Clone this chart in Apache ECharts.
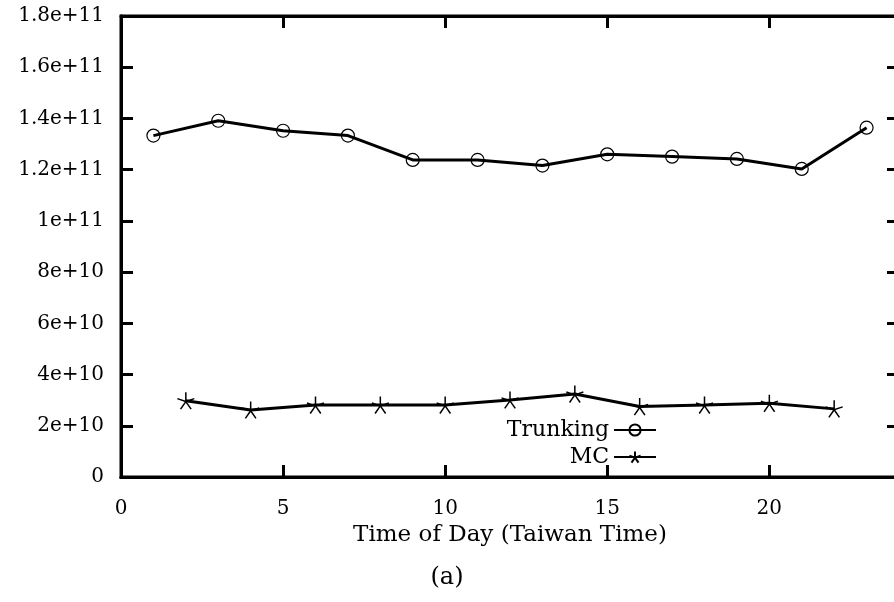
<!DOCTYPE html>
<html><head><meta charset="utf-8">
<script src="https://cdn.jsdelivr.net/npm/echarts@6/dist/echarts.min.js"></script>
<style>html,body{margin:0;padding:0;background:#fff}#c{width:894px;height:602px}</style>
</head><body><div id="c"></div>
<script>
const trunkingHours = [1,3,5,7,9,11,13,15,17,19,21,23];
const trunkingValues = [1.333e11,1.391e11,1.352e11,1.333e11,1.238e11,1.238e11,1.216e11,1.260e11,1.251e11,1.242e11,1.203e11,1.364e11];
const mcHours = [2,4,6,8,10,12,14,16,18,20,22];
const mcValues = [2.98e10,2.62e10,2.81e10,2.81e10,2.81e10,3.01e10,3.24e10,2.75e10,2.81e10,2.88e10,2.66e10];
const xTitle = 'Time of Day (Taiwan Time)';
const caption = '(a)';

const FONT = 'DejaVu Serif';
const TICK = '#000';
const starPath = 'path://M0,-10L0,0L9.5,-3.1M0,0L5.9,8.1M0,0L-5.9,8.1M0,0L-9.5,-3.1';
const fmtY = v => v === 0 ? '0' : v.toExponential().replace(/\.?0+e/, 'e');

const tickX = pos => ({type: 'value', min: 0, max: 24, interval: 5, position: pos,
  axisLine: {show: true, onZero: false, lineStyle: {color: '#000', width: 3}},
  axisTick: {show: true, inside: true, length: 12, lineStyle: {color: TICK, width: 3}},
  axisLabel: {show: false}, splitLine: {show: false}});
const tickY = pos => ({type: 'value', min: 0, max: 1.8e11, interval: 2e10, position: pos,
  axisLine: {show: true, onZero: false, lineStyle: {color: '#000', width: 3}},
  axisTick: {show: true, inside: true, length: 12, lineStyle: {color: TICK, width: 3}},
  axisLabel: {show: false}, splitLine: {show: false}});

const chart = echarts.init(document.getElementById('c'));
chart.setOption({
  backgroundColor: '#fff',
  animation: false,
  title: {text: caption, left: 'center', top: 561, textStyle: {fontFamily: FONT, fontSize: 24, fontWeight: 'normal', color: '#000'}},
  grid: {left: 121, top: 16, width: 778, height: 461, containLabel: false, outerBoundsMode: 'none',
         show: true, borderColor: '#000', borderWidth: 3},
  legend: {
    orient: 'vertical', right: 232, top: 414, align: 'right',
    itemWidth: 42, itemHeight: 14, itemGap: 5,
    textStyle: {fontFamily: FONT, fontSize: 22, color: '#000'},
    data: ['Trunking', 'MC']
  },
  xAxis: [
    {type: 'value', min: 0, max: 24, interval: 5, position: 'bottom',
     name: xTitle, nameLocation: 'middle', nameGap: 45,
     nameTextStyle: {fontFamily: FONT, fontSize: 23, color: '#000'},
     axisLine: {show: true, onZero: false, lineStyle: {color: '#000', width: 3}},
     axisTick: {show: false},
     axisLabel: {fontFamily: FONT, fontSize: 20, color: '#000', margin: 22, showMaxLabel: false},
     splitLine: {show: false}},
    tickX('top'),
    tickX('bottom')
  ],
  yAxis: [
    {type: 'value', min: 0, max: 1.8e11, interval: 2e10, position: 'left',
     axisLine: {show: true, onZero: false, lineStyle: {color: '#000', width: 3}},
     axisTick: {show: false},
     axisLabel: {fontFamily: FONT, fontSize: 20, color: '#000', margin: 17, formatter: fmtY},
     splitLine: {show: false}},
    tickY('right'),
    tickY('left')
  ],
  series: [
    {name: 'Trunking', type: 'line', xAxisIndex: 0, yAxisIndex: 0,
     data: trunkingHours.map((h, i) => [h, trunkingValues[i]]),
     symbol: 'circle', symbolSize: 13, showAllSymbol: true,
     lineStyle: {color: '#000', width: 3},
     itemStyle: {color: 'rgba(0,0,0,0)', borderColor: '#000', borderWidth: 1.2}},
    {name: 'MC', type: 'line', xAxisIndex: 0, yAxisIndex: 0,
     data: mcHours.map((h, i) => [h, mcValues[i]]),
     symbol: starPath, symbolSize: 17, showAllSymbol: true,
     lineStyle: {color: '#000', width: 3},
     itemStyle: {color: 'rgba(0,0,0,0)', borderColor: '#000', borderWidth: 1.5}},
    {name: 'mirror1', type: 'line', xAxisIndex: 1, yAxisIndex: 1, data: [], silent: true,
     symbol: 'none', lineStyle: {opacity: 0}},
    {name: 'mirror2', type: 'line', xAxisIndex: 2, yAxisIndex: 2, data: [], silent: true,
     symbol: 'none', lineStyle: {opacity: 0}}
  ]
});
</script></body></html>
